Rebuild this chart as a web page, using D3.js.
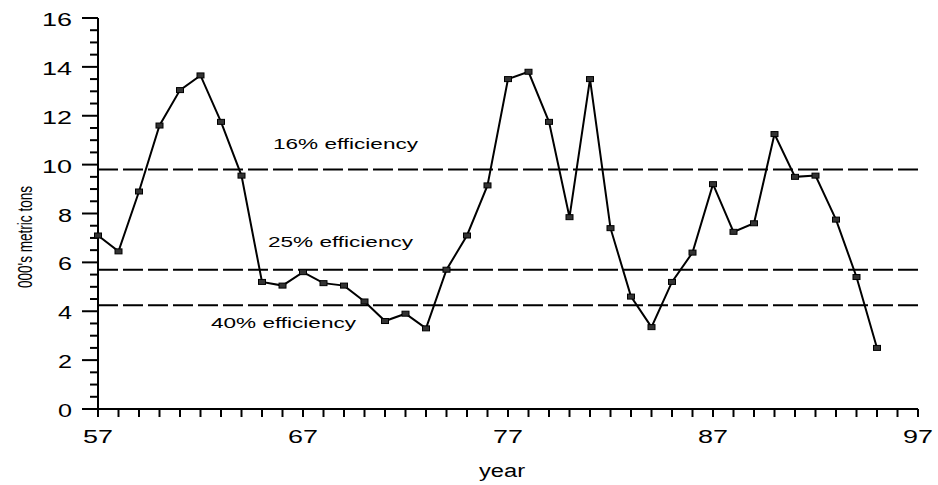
<!DOCTYPE html>
<html>
<head>
<meta charset="utf-8">
<script src="https://cdn.jsdelivr.net/npm/d3@7"></script>
<style>
  body { margin: 0; background: #fff; }
  text { font-family: "Liberation Sans", Arial, sans-serif; fill: #000; }
</style>
</head>
<body>
<div id="chart"></div>
<script>
// yearly values, 000's metric tons
var years = d3.range(57, 96);
var tons = [7.1, 6.45, 8.9, 11.6, 13.05, 13.65, 11.75, 9.55, 5.2, 5.05,
            5.6, 5.15, 5.05, 4.4, 3.6, 3.9, 3.3, 5.7, 7.1, 9.15,
            13.5, 13.8, 11.75, 7.85, 13.5, 7.4, 4.6, 3.35, 5.2, 6.4,
            9.2, 7.25, 7.6, 11.25, 9.5, 9.55, 7.75, 5.4, 2.5];

// efficiency reference lines
var refLabels = ["16% efficiency", "25% efficiency", "40% efficiency"];
var refValues = [9.8, 5.7, 4.25];
var refLabelX = [273, 268, 211];
var refLabelY = [149, 247, 328];

var yTicks = [0, 2, 4, 6, 8, 10, 12, 14, 16];
var xTicks = [57, 67, 77, 87, 97];

var width = 938, height = 485;
var margin = { top: 18, right: 20, bottom: 76, left: 98 };

var svg = d3.select('#chart').append('svg')
    .attr('width', width)
    .attr('height', height);

var x = d3.scaleLinear().domain([57, 97]).range([margin.left, width - margin.right]);
var y = d3.scaleLinear().domain([0, 16]).range([height - margin.bottom, margin.top]);

// axis lines
svg.append('line')
    .attr('x1', x(57)).attr('x2', x(57))
    .attr('y1', y(16)).attr('y2', y(0))
    .attr('stroke', '#000').attr('stroke-width', 2);
svg.append('line')
    .attr('x1', x(57)).attr('x2', x(97))
    .attr('y1', y(0)).attr('y2', y(0))
    .attr('stroke', '#000').attr('stroke-width', 2);

// y ticks: major every 2, minor every 0.5
svg.selectAll('.ytick')
    .data(d3.range(0, 16.01, 0.5))
    .enter().append('line')
    .attr('x1', function (d) { return d % 2 === 0 ? x(57) - 16 : x(57) - 8; })
    .attr('x2', x(57))
    .attr('y1', function (d) { return y(d); })
    .attr('y2', function (d) { return y(d); })
    .attr('stroke', '#000').attr('stroke-width', 2);

svg.selectAll('.ylab')
    .data(yTicks)
    .enter().append('text')
    .attr('x', x(57) - 26)
    .attr('y', function (d) { return y(d) + 8; })
    .attr('text-anchor', 'end')
    .attr('font-size', 18)
    .attr('textLength', function (d) { return String(d).length > 1 ? 30 : 14; })
    .attr('lengthAdjust', 'spacingAndGlyphs')
    .text(function (d) { return d; });

// x ticks every year
svg.selectAll('.xtick')
    .data(d3.range(57, 98))
    .enter().append('line')
    .attr('x1', function (d) { return x(d); })
    .attr('x2', function (d) { return x(d); })
    .attr('y1', y(0))
    .attr('y2', y(0) + 8)
    .attr('stroke', '#000').attr('stroke-width', 2);

svg.selectAll('.xlab')
    .data(xTicks)
    .enter().append('text')
    .attr('x', function (d) { return x(d) - 15; })
    .attr('y', y(0) + 34)
    .attr('font-size', 18)
    .attr('textLength', 30)
    .attr('lengthAdjust', 'spacingAndGlyphs')
    .text(function (d) { return d; });

// axis titles
svg.append('text')
    .attr('x', 479)
    .attr('y', 477)
    .attr('font-size', 18)
    .attr('textLength', 46)
    .attr('lengthAdjust', 'spacingAndGlyphs')
    .text('year');

svg.append('text')
    .attr('transform', 'translate(32,288) rotate(-90)')
    .attr('font-size', 21)
    .attr('textLength', 102)
    .attr('lengthAdjust', 'spacingAndGlyphs')
    .text("000's metric tons");

// dashed reference lines
svg.selectAll('.ref')
    .data(refValues)
    .enter().append('line')
    .attr('x1', x(57))
    .attr('x2', x(97))
    .attr('y1', function (d) { return y(d); })
    .attr('y2', function (d) { return y(d); })
    .attr('stroke', '#000').attr('stroke-width', 2)
    .attr('stroke-dasharray', '20,5');

svg.selectAll('.reflab')
    .data(refLabels)
    .enter().append('text')
    .attr('x', function (d, i) { return refLabelX[i]; })
    .attr('y', function (d, i) { return refLabelY[i]; })
    .attr('font-size', 15)
    .attr('textLength', 145)
    .attr('lengthAdjust', 'spacingAndGlyphs')
    .text(function (d) { return d; });

// data line
var line = d3.line()
    .x(function (d, i) { return x(years[i]); })
    .y(function (d) { return y(d); });

svg.append('path')
    .datum(tons)
    .attr('d', line)
    .attr('fill', 'none')
    .attr('stroke', '#000')
    .attr('stroke-width', 2);

svg.selectAll('.pt')
    .data(tons)
    .enter().append('rect')
    .attr('x', function (d, i) { return x(years[i]) - 3.5; })
    .attr('y', function (d) { return y(d) - 2.5; })
    .attr('width', 7)
    .attr('height', 5)
    .attr('fill', '#333')
    .attr('stroke', '#000')
    .attr('stroke-width', 1);
</script>
</body>
</html>
